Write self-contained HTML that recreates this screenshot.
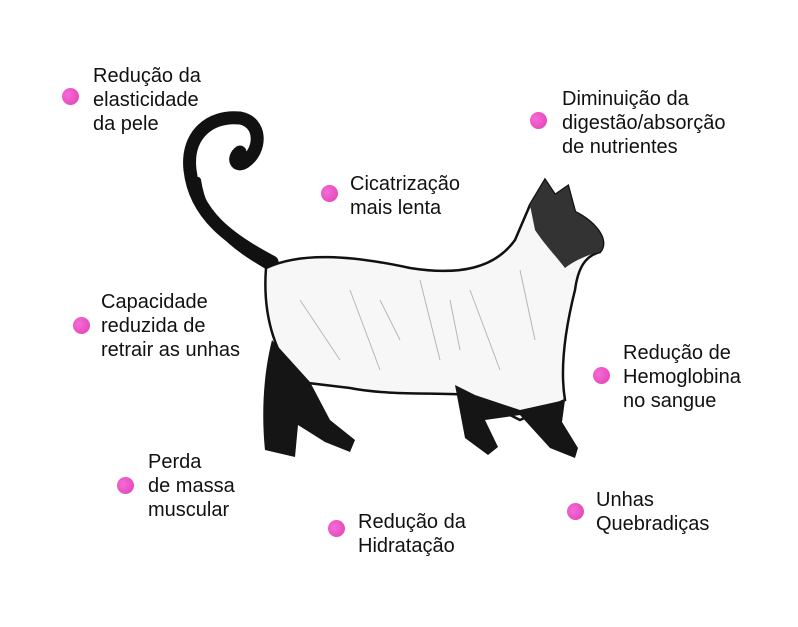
<!DOCTYPE html>
<html><head><meta charset="utf-8"><style>
body{margin:0;width:798px;height:627px;background:#fff;position:relative;overflow:hidden;font-family:"Liberation Sans",sans-serif;}
.t{position:absolute;font-size:20px;line-height:24px;color:#111;}
.d{position:absolute;width:17px;height:17px;border-radius:50%;background:radial-gradient(circle at 35% 40%,#f56bd8,#e040b0);}
svg{position:absolute;left:0;top:0}
</style></head><body>
<svg width="798" height="627">
<g stroke="#111" fill="none" stroke-linecap="round">
<path d="M272 262 C230 240 195 215 190 170 C186 135 210 115 240 118 C262 122 262 150 245 162 C236 168 232 158 240 152" stroke-width="13"/>
<path d="M270 268 C230 245 205 225 198 180" stroke-width="6"/>
</g>
<path d="M266 268 C300 252 350 255 410 268 C460 276 495 268 515 240 L530 205 L545 180 L555 195 L568 186 L575 212 C595 222 610 240 600 252 C585 256 578 268 575 290 C565 330 560 370 565 400 L520 420 L470 395 C440 392 390 396 350 388 L300 382 C278 360 262 320 266 268 Z" fill="#f7f7f7" stroke="#111" stroke-width="2.5"/>
<g stroke="#777" stroke-width="1" opacity=".5">
<path d="M300 300 L340 360 M350 290 L380 370 M420 280 L440 360 M470 290 L500 370 M520 270 L535 340 M380 300 L400 340 M450 300 L460 350"/>
</g>
<path d="M530 205 L545 180 L555 195 L568 186 L575 212 C595 222 610 240 600 252 C590 254 575 260 565 268 C555 255 545 245 535 230 Z" fill="#333"/>
<path d="M272 340 C262 380 262 420 265 450 L295 457 L298 425 L325 442 L350 452 L355 440 L330 420 L310 382 Z" fill="#151515"/>
<path d="M455 385 L465 438 L488 455 L498 447 L485 420 L520 415 L550 448 L575 458 L578 448 L562 422 L565 400 L520 410 L475 395 Z" fill="#151515"/>
</svg>
<div class="d" style="left:62px;top:88px"></div><div class="t" style="left:93px;top:64px">Redução da<br>elasticidade<br>da pele</div>
<div class="d" style="left:530px;top:112px"></div><div class="t" style="left:562px;top:87px">Diminuição da<br>digestão/absorção<br>de nutrientes</div>
<div class="d" style="left:321px;top:185px"></div><div class="t" style="left:350px;top:172px">Cicatrização<br>mais lenta</div>
<div class="d" style="left:73px;top:317px"></div><div class="t" style="left:101px;top:290px">Capacidade<br>reduzida de<br>retrair as unhas</div>
<div class="d" style="left:593px;top:367px"></div><div class="t" style="left:623px;top:341px">Redução de<br>Hemoglobina<br>no sangue</div>
<div class="d" style="left:117px;top:477px"></div><div class="t" style="left:148px;top:450px">Perda<br>de massa<br>muscular</div>
<div class="d" style="left:567px;top:503px"></div><div class="t" style="left:596px;top:488px">Unhas<br>Quebradiças</div>
<div class="d" style="left:328px;top:520px"></div><div class="t" style="left:358px;top:510px">Redução da<br>Hidratação</div>
</body></html>
